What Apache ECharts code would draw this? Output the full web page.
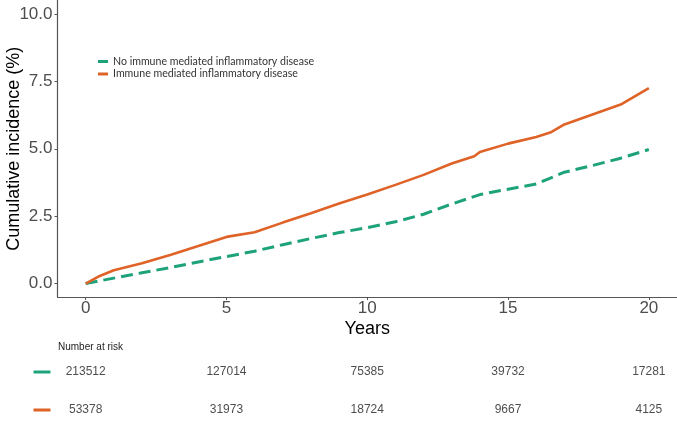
<!DOCTYPE html>
<html>
<head>
<meta charset="utf-8">
<script src="https://cdn.jsdelivr.net/npm/echarts@6/dist/echarts.min.js"></script>
<style>
html,body{margin:0;padding:0;background:#fff;}
#chart{width:677px;height:438px;}
</style>
</head>
<body>
<div id="chart"></div>
<script>
// ---- data ----
var seriesNames = ['No immune mediated inflammatory disease', 'Immune mediated inflammatory disease'];
var noImidYears = [0, 1, 2, 3, 4, 5, 6, 7, 8, 9, 10, 11, 12, 13, 14, 15, 16, 17, 18, 19, 20];
var noImidValues = [0, 0.20, 0.40, 0.59, 0.80, 1.00, 1.20, 1.44, 1.67, 1.89, 2.07, 2.29, 2.57, 2.95, 3.30, 3.50, 3.69, 4.13, 4.38, 4.65, 4.97];
var imidYears = [0, 0.5, 1, 2, 3, 4, 5, 6, 7, 8, 9, 10, 11, 12, 13, 13.8, 14, 15, 16, 16.5, 17, 18, 19, 20];
var imidValues = [0, 0.28, 0.49, 0.75, 1.06, 1.39, 1.73, 1.90, 2.26, 2.61, 2.97, 3.30, 3.66, 4.03, 4.45, 4.72, 4.88, 5.19, 5.44, 5.60, 5.90, 6.27, 6.64, 7.25];
var xTicks = [0, 5, 10, 15, 20];
var yTicks = [0, 2.5, 5, 7.5, 10];
var riskTimes = [0, 5, 10, 15, 20];
var riskNoImid = [213512, 127014, 75385, 39732, 17281];
var riskImid = [53378, 31973, 18724, 9667, 4125];
var riskRows = ['noimid', 'imid'];

var GREEN = '#1DA27A', ORANGE = '#DF6227';
var AXIS_FONT = '"Liberation Sans", Arial, sans-serif';

function pairs(xs, ys) { return xs.map(function (x, i) { return [x, ys[i]]; }); }

var chart = echarts.init(document.getElementById('chart'), null, {renderer: 'canvas'});
chart.setOption({
  animation: false,
  backgroundColor: '#ffffff',
  title: {
    text: 'Number at risk',
    left: 53, top: 337,
    textStyle: {fontFamily: AXIS_FONT, fontSize: 10, fontWeight: 'normal', color: '#222'}
  },
  legend: {
    data: seriesNames,
    orient: 'vertical',
    left: 98, top: 56, padding: 0,
    icon: 'rect',
    itemWidth: 10, itemHeight: 3,
    itemGap: 1.5,
    textStyle: {fontFamily: 'Lato, sans-serif', fontSize: 10.6, color: '#333'}
  },
  grid: [
    {left: 57.5, width: 619.5, top: 0.5, height: 296.5, containLabel: false, outerBoundsMode: 'none'},
    {left: 57.5, width: 619.5, top: 353, height: 76, containLabel: false, outerBoundsMode: 'none'}
  ],
  xAxis: [{
    gridIndex: 0, type: 'value', min: -1, max: 21,
    name: 'Years', nameLocation: 'middle', nameGap: 23, nameMoveOverlap: false,
    nameTextStyle: {fontFamily: AXIS_FONT, fontSize: 18, color: '#000'},
    axisLine: {show: true, onZero: false, lineStyle: {color: '#555', width: 1.2}},
    axisTick: {show: true, length: 3, customValues: xTicks, lineStyle: {color: '#555'}},
    axisLabel: {customValues: xTicks, fontFamily: AXIS_FONT, fontSize: 17, color: '#4d4d4d', margin: 3},
    splitLine: {show: false}
  }, {
    gridIndex: 1, type: 'value', min: -1, max: 21, show: false
  }],
  yAxis: [{
    gridIndex: 0, type: 'value', min: -0.5, max: 10.5,
    name: 'Cumulative incidence (%)', nameLocation: 'middle', nameGap: 34, nameMoveOverlap: false,
    nameTextStyle: {fontFamily: AXIS_FONT, fontSize: 18, color: '#000'},
    axisLine: {show: true, onZero: false, lineStyle: {color: '#555', width: 1.2}},
    axisTick: {show: true, length: 3, customValues: yTicks, lineStyle: {color: '#555'}},
    axisLabel: {customValues: yTicks, fontFamily: AXIS_FONT, fontSize: 17, color: '#4d4d4d', margin: 5,
      formatter: function (v) { return v.toFixed(1); }},
    splitLine: {show: false}
  }, {
    gridIndex: 1, type: 'category', data: riskRows, inverse: true,
    axisLine: {show: false}, axisTick: {show: false},
    axisLabel: {
      margin: 7,
      formatter: function (v) { return v === 'noimid' ? '{g|}' : '{o|}'; },
      rich: {
        g: {width: 17, height: 3, backgroundColor: GREEN},
        o: {width: 17, height: 3, backgroundColor: ORANGE}
      }
    }
  }],
  series: [{
    name: seriesNames[0], type: 'line', xAxisIndex: 0, yAxisIndex: 0,
    data: pairs(noImidYears, noImidValues),
    showSymbol: false, symbol: 'none', color: GREEN,
    lineStyle: {color: GREEN, width: 3, type: [12, 6]}
  }, {
    name: seriesNames[1], type: 'line', xAxisIndex: 0, yAxisIndex: 0,
    data: pairs(imidYears, imidValues),
    showSymbol: false, symbol: 'none', color: ORANGE,
    lineStyle: {color: ORANGE, width: 2.6}
  }, {
    name: 'riskNoImid', type: 'scatter', xAxisIndex: 1, yAxisIndex: 1,
    symbolSize: 0,
    data: riskTimes.map(function (t, i) { return [t, 0, riskNoImid[i]]; }),
    label: {show: true, position: 'inside', formatter: function (p) { return String(p.value[2]); },
      fontFamily: AXIS_FONT, fontSize: 12, color: '#222'}
  }, {
    name: 'riskImid', type: 'scatter', xAxisIndex: 1, yAxisIndex: 1,
    symbolSize: 0,
    data: riskTimes.map(function (t, i) { return [t, 1, riskImid[i]]; }),
    label: {show: true, position: 'inside', formatter: function (p) { return String(p.value[2]); },
      fontFamily: AXIS_FONT, fontSize: 12, color: '#222'}
  }]
});
</script>
</body>
</html>
